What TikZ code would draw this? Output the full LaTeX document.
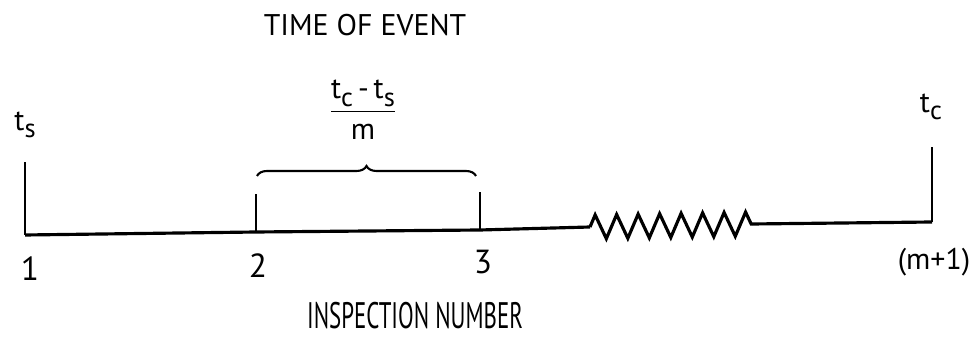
\documentclass[tikz,border=0pt]{standalone}
\usepackage{fontspec}
\setmainfont{PT Sans}
\usepackage{amsmath}
\usetikzlibrary{decorations.pathmorphing,decorations.pathreplacing}
\newcommand{\lowr}[1]{\raisebox{-0.5ex}{\fontsize{15}{18}\selectfont #1}}

\begin{document}
\begin{tikzpicture}[
    x=0.02cm, y=-0.02cm,
    every node/.style={font=\fontsize{17}{20}\selectfont, inner sep=0pt},
    digit/.style={font=\fontsize{19}{22}\selectfont},
    axis/.style={line width=1.8pt},
    tick/.style={line width=1.2pt},
    zig/.style={decorate, decoration={zigzag, segment length=0.43cm, amplitude=0.24cm}},
    span/.style={decorate, decoration={brace, amplitude=0.2cm}, line width=1.2pt}
]
\useasboundingbox (0,0) rectangle (975,340);
% points on the time line
\coordinate (p1) at (25,235);
\coordinate (p2) at (256,232);
\coordinate (p3) at (480,230);
\coordinate (zs) at (590,227);
\coordinate (ze) at (752,224);
\coordinate (pm) at (932,222);
\draw[axis] (p1) -- (p2) -- (p3) -- (zs);
\draw[axis, zig] (zs) -- (ze);
\draw[axis] (ze) -- (pm);
\draw[tick] (p1) -- ++(0,-73) coordinate (t1);
\draw[tick] (p2) -- ++(0,-38) coordinate (t2);
\draw[tick] (p3) -- ++(0,-38) coordinate (t3);
\draw[tick] (pm) -- ++(0,-75) coordinate (tm);
% labels
\node (ts) at (25,125) {t\lowr{s}};
\node (tc) at (931,107) {t\lowr{c}};
\draw[span] (257,176) -- (476,176);
\node (width) at (363,110) {$\dfrac{\text{t\lowr{c}\,-\,t\lowr{s}}}{\text{m}}$};
\node (title) at (365,25) {TIME OF EVENT};
\node[digit] (n1) at (30,269) {1};
\node[digit] (n2) at (258,266) {2};
\node[digit] (n3) at (483,262) {3};
\node (nm) at (934,262) {(m+1)};
\node[font=\fontsize{21}{24}\selectfont] (xlabel) at (415,316) {\scalebox{0.62}[1]{INSPECTION NUMBER}};
\end{tikzpicture}
\end{document}
